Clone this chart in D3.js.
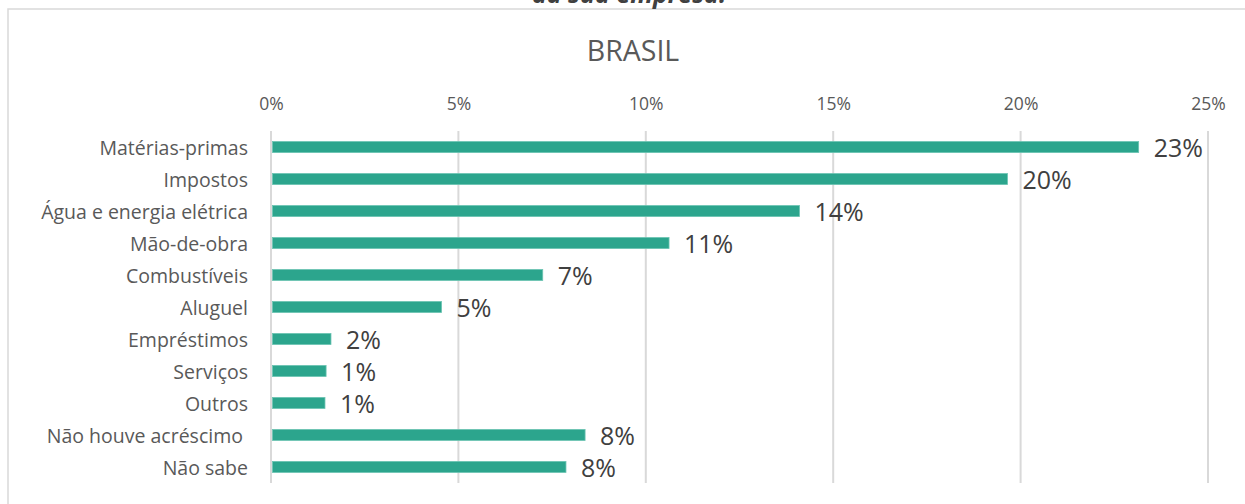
<!DOCTYPE html>
<html><head><meta charset="utf-8">
<script src="https://cdn.jsdelivr.net/npm/d3@7"></script>
<style>
body{margin:0;background:#fff;}
svg{display:block;font-family:"Open Sans", Lato, sans-serif;}
</style></head>
<body>
<svg id="chart" width="1245" height="504"></svg>
<script>
const categories = ["Matérias-primas","Impostos","Água e energia elétrica","Mão-de-obra","Combustíveis","Aluguel","Empréstimos","Serviços","Outros","Não houve acréscimo ","Não sabe"];
const values = [23.15, 19.65, 14.1, 10.62, 7.25, 4.55, 1.6, 1.47, 1.44, 8.38, 7.87];
const valueLabels = ["23%","20%","14%","11%","7%","5%","2%","1%","1%","8%","8%"];
const tickValues = [0,5,10,15,20,25];
const title = "BRASIL";
const topText = "da sua empresa.";

const svg = d3.select("#chart");
const pLeft = 271, pRight = 1208, pTop = 131, pBottom = 483;

// frame
svg.append("rect").attr("x",8).attr("y",9).attr("width",1260).attr("height",520)
  .attr("fill","none").attr("stroke","#d9d9d9").attr("stroke-width",1.5);

// cut-off heading (continuation of a caption above the chart)
svg.append("text").attr("x",629).attr("y",3).attr("text-anchor","middle")
  .attr("font-size",25).attr("font-weight","bold").attr("font-style","italic")
  .attr("fill","#404040").text(topText);

svg.append("text").attr("x",633).attr("y",61).attr("text-anchor","middle")
  .attr("font-size",28.5).attr("fill","#595959").text(title);

const x = d3.scaleLinear().domain([0,25]).range([pLeft,pRight]);
const y = d3.scaleBand().domain(categories).range([pTop,pBottom]).paddingInner(0.655).paddingOuter(0.33);

// gridlines
svg.append("g").selectAll("line").data(tickValues).join("line")
  .attr("x1",d=>x(d)).attr("x2",d=>x(d)).attr("y1",pTop).attr("y2",pBottom)
  .attr("stroke","#d9d9d9").attr("stroke-width",2);

// top axis labels
const ax = svg.append("g").attr("transform",`translate(0,${110})`)
  .call(d3.axisTop(x).tickValues(tickValues).tickFormat(d=>d+"%").tickSize(0).tickPadding(0));
ax.select(".domain").remove();
ax.selectAll("text").attr("font-size",17.5).attr("fill","#595959").attr("dy",0)
  .attr("font-family","'Open Sans', Lato, sans-serif");

// bars
svg.append("g").selectAll("rect").data(values).join("rect")
  .attr("x",x(0)+1.5).attr("y",(d,i)=>y(categories[i]))
  .attr("width",d=>x(d)-x(0)-1.5).attr("height",y.bandwidth())
  .attr("fill","#2ca58d").attr("stroke","#6cc4b2").attr("stroke-width",0.8);

// category labels
svg.append("g").selectAll("text").data(categories).join("text")
  .attr("x",248).attr("y",d=>y(d)+y.bandwidth()/2+8)
  .attr("text-anchor","end").attr("font-size",19.5).attr("fill","#595959")
  .style("white-space","pre").text(d=>d);

// value labels
svg.append("g").selectAll("text").data(values).join("text")
  .attr("x",d=>x(d)+15).attr("y",(d,i)=>y(categories[i])+y.bandwidth()/2+10)
  .attr("font-size",25).attr("fill","#404040").text((d,i)=>valueLabels[i]);
</script>
</body></html>
